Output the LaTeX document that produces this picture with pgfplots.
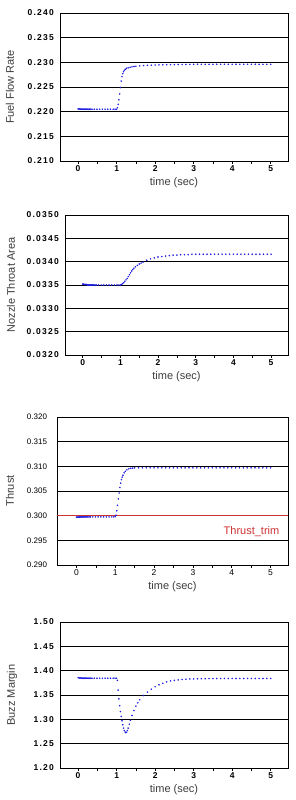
\documentclass[border=0pt]{standalone}
\usepackage{fontspec}
\setmainfont{Liberation Sans}
\newfontfamily\spaced[LetterSpace=15]{Liberation Sans}
\usepackage{pgfplots}
\pgfplotsset{compat=1.18}
\definecolor{dotblue}{RGB}{30,30,225}
\definecolor{trimred}{RGB}{205,50,50}
\definecolor{labgray}{RGB}{60,60,60}
\pgfplotsset{
  panel/.style={
    scale only axis,
    xmin=-0.47, xmax=5.45,
    xtick={0,1,2,3,4,5},
    minor xtick={0.5,1.5,2.5,3.5,4.5},
    ymajorgrids,
    grid style={black, line width=0.6pt},
    axis line style={black, line width=0.6pt},
    tick align=outside, tick pos=left,
    ytick style={draw=none},
    xtick style={black, line width=0.5pt},
    major tick length=2.5pt, minor tick length=2.5pt,
    scaled y ticks=false,
    xlabel={time (sec)},
    xlabel style={at={(axis description cs:0.5,0)}, anchor=center, yshift=-22pt, font=\fontsize{11}{13}\selectfont, text=labgray},
    ylabel style={at={(axis description cs:0,0.5)}, anchor=center, font=\fontsize{11}{13}\selectfont, text=labgray},
    xticklabel style={font=\bfseries\fontsize{8.5}{10}\selectfont, yshift=1pt},
    /pgf/number format/assume math mode=true,
  },
  dots/.style={only marks, mark=*, mark size=0.55pt, color=dotblue},
  yfmt/.style={yticklabel style={/pgf/number format/fixed, /pgf/number format/fixed zerofill, /pgf/number format/precision=#1}},
}
\begin{document}
\begin{tikzpicture}
\useasboundingbox (0,0) rectangle (296pt,-800pt);
% Panel 1
\begin{axis}[panel, at={(60pt,-13pt)}, anchor=north west, width=228pt, height=148pt,
  ymin=0.21, ymax=0.24, ytick={0.210,0.215,0.220,0.225,0.230,0.235,0.240},
  yfmt=3, yticklabel style={font=\spaced\bfseries\fontsize{8.5}{10}\selectfont},
  ylabel={Fuel Flow Rate}, ylabel style={yshift=50pt}]
\addplot[dots] coordinates {
(0.00,0.22055)(0.02,0.22055)(0.04,0.22053)(0.06,0.22052)(0.08,0.22052)(0.10,0.22051)(0.12,0.2205)(0.14,0.2205)(0.16,0.2205)(0.18,0.2205)(0.20,0.2205)(0.22,0.2205)(0.24,0.2205)(0.26,0.2205)(0.28,0.2205)(0.30,0.2205)(0.33,0.2205)(0.36,0.2205)
(0.42,0.2205)(0.49,0.2205)(0.56,0.2205)(0.63,0.2205)(0.70,0.2205)(0.77,0.2205)(0.84,0.2205)(0.91,0.2205)(0.96,0.2205)(1.00,0.2205)
(1.02,0.2208)(1.04,0.2215)(1.06,0.2224)(1.08,0.2236)(1.10,0.2249)(1.12,0.2262)(1.14,0.2271)(1.16,0.2277)(1.18,0.2281)(1.20,0.2284)
(1.23,0.2286)(1.26,0.2288)(1.30,0.2289)(1.35,0.2290)(1.40,0.22908)(1.45,0.22915)(1.50,0.2292)(1.60,0.22928)(1.70,0.22935)(1.80,0.2294)(1.90,0.22943)(2.00,0.22946)
(2.10,0.22948)(2.20,0.2295)(2.30,0.22952)(2.40,0.22953)(2.50,0.22954)(2.60,0.22955)(2.70,0.22956)(2.80,0.22957)(2.90,0.22958)(3.00,0.22959)
(3.10,0.2296)(3.20,0.2296)(3.30,0.2296)(3.40,0.2296)(3.50,0.2296)(3.60,0.2296)(3.70,0.2296)(3.80,0.2296)(3.90,0.2296)(4.00,0.2296)
(4.10,0.2296)(4.20,0.2296)(4.30,0.2296)(4.40,0.2296)(4.50,0.2296)(4.60,0.2296)(4.70,0.2296)(4.80,0.2296)(4.90,0.2296)(5.00,0.2296)
};
\end{axis}
% Panel 2
\begin{axis}[panel, at={(65pt,-215pt)}, anchor=north west, width=223pt, height=140pt,
  ymin=0.032, ymax=0.035, ytick={0.0320,0.0325,0.0330,0.0335,0.0340,0.0345,0.0350},
  yfmt=4, yticklabel style={font=\spaced\bfseries\fontsize{8.5}{10}\selectfont},
  ylabel={Nozzle Throat Area}, ylabel style={yshift=54pt}]
\addplot[dots] coordinates {
(0.00,0.03352)(0.02,0.03352)(0.04,0.03351)(0.06,0.03351)(0.08,0.03351)(0.10,0.03351)(0.12,0.0335)(0.14,0.0335)(0.16,0.0335)(0.18,0.0335)(0.20,0.0335)(0.22,0.0335)(0.24,0.0335)(0.26,0.0335)(0.28,0.0335)(0.30,0.0335)(0.33,0.0335)(0.36,0.0335)
(0.42,0.0335)(0.49,0.0335)(0.56,0.0335)(0.63,0.0335)(0.70,0.0335)(0.77,0.0335)(0.84,0.0335)(0.91,0.0335)(0.96,0.0335)(1.00,0.0335)
(1.03,0.03351)(1.06,0.03353)(1.09,0.03355)(1.12,0.03358)(1.15,0.03361)(1.18,0.03364)(1.21,0.03368)(1.24,0.03372)(1.27,0.03376)(1.30,0.0338)(1.33,0.03383)(1.36,0.03386)(1.40,0.03389)
(1.45,0.03392)(1.50,0.03395)(1.55,0.03397)(1.60,0.03399)(1.70,0.03403)(1.80,0.03406)(1.90,0.03408)(2.00,0.0341)(2.10,0.03411)(2.20,0.03412)(2.30,0.03413)(2.40,0.03414)(2.50,0.03414)
(2.60,0.03415)(2.70,0.03415)(2.80,0.03415)(2.90,0.03416)(3.00,0.03416)(3.10,0.03416)(3.20,0.03416)(3.30,0.03416)(3.40,0.03416)(3.50,0.03416)(3.60,0.03416)(3.70,0.03416)(3.80,0.03416)(3.90,0.03416)(4.00,0.03416)
(4.10,0.03416)(4.20,0.03416)(4.30,0.03416)(4.40,0.03416)(4.50,0.03416)(4.60,0.03416)(4.70,0.03416)(4.80,0.03416)(4.90,0.03416)(5.00,0.03416)
};
\end{axis}
% Panel 3
\begin{axis}[panel, at={(57pt,-417pt)}, anchor=north west, width=231pt, height=148pt, xmin=-0.5,
  xticklabel style={font=\fontsize{8.5}{10}\selectfont},
  ymin=0.29, ymax=0.32, ytick={0.290,0.295,0.300,0.305,0.310,0.315,0.320},
  yfmt=3, yticklabel style={font=\fontsize{8}{10}\selectfont, xshift=-4pt},
  ylabel={Thrust}, ylabel style={yshift=47pt}]
\addplot[trimred, line width=1.3pt, forget plot] coordinates {(-0.5,0.300)(5.45,0.300)};
\addplot[dots] coordinates {
(0.00,0.2997)(0.02,0.2997)(0.04,0.29972)(0.06,0.29972)(0.08,0.29973)(0.10,0.29973)(0.12,0.29974)(0.14,0.29974)(0.16,0.29975)(0.18,0.29975)(0.20,0.29975)(0.22,0.29975)(0.24,0.29975)(0.26,0.29975)(0.28,0.29975)(0.30,0.29975)(0.33,0.29975)(0.36,0.29975)
(0.42,0.29975)(0.49,0.29975)(0.56,0.29975)(0.63,0.29975)(0.70,0.29975)(0.77,0.29975)(0.84,0.29975)(0.91,0.29975)(0.96,0.29975)(1.00,0.2998)
(1.02,0.3001)(1.04,0.3010)(1.06,0.3021)(1.08,0.3034)(1.10,0.3046)(1.12,0.3057)(1.14,0.3066)(1.16,0.3073)(1.18,0.3078)(1.20,0.3082)
(1.23,0.3087)(1.26,0.3090)(1.30,0.3093)(1.35,0.3095)(1.40,0.3096)(1.45,0.30965)(1.50,0.3097)(1.60,0.3097)(1.70,0.3097)(1.80,0.3097)(1.90,0.3097)(2.00,0.3097)
(2.10,0.3097)(2.20,0.3097)(2.30,0.3097)(2.40,0.3097)(2.50,0.3097)(2.60,0.3097)(2.70,0.3097)(2.80,0.3097)(2.90,0.3097)(3.00,0.3097)
(3.10,0.3097)(3.20,0.3097)(3.30,0.3097)(3.40,0.3097)(3.50,0.3097)(3.60,0.3097)(3.70,0.3097)(3.80,0.3097)(3.90,0.3097)(4.00,0.3097)
(4.10,0.3097)(4.20,0.3097)(4.30,0.3097)(4.40,0.3097)(4.50,0.3097)(4.60,0.3097)(4.70,0.3097)(4.80,0.3097)(4.90,0.3097)(5.00,0.3097)
};
\node[text=trimred, font=\fontsize{11}{13}\selectfont] at (axis cs:4.51,0.2968) {Thrust\_trim};
\end{axis}
% Panel 4
\begin{axis}[panel, at={(60pt,-622pt)}, anchor=north west, width=228pt, height=146pt,
  ymin=1.2, ymax=1.5, ytick={1.20,1.25,1.30,1.35,1.40,1.45,1.50},
  yfmt=2, yticklabel style={font=\spaced\bfseries\fontsize{8.5}{10}\selectfont},
  ylabel={Buzz Margin}, ylabel style={yshift=48pt}]
\addplot[dots] coordinates {
(0.00,1.3855)(0.02,1.3855)(0.04,1.385)(0.06,1.385)(0.08,1.3848)(0.10,1.3847)(0.12,1.3846)(0.14,1.3845)(0.16,1.3845)(0.18,1.3845)(0.20,1.3845)(0.22,1.3845)(0.24,1.3845)(0.26,1.3845)(0.28,1.3845)(0.30,1.3845)(0.33,1.3845)(0.36,1.3845)
(0.42,1.3845)(0.49,1.3845)(0.56,1.3845)(0.63,1.3845)(0.70,1.3845)(0.77,1.3845)(0.84,1.3845)(0.91,1.3845)(0.96,1.3845)(1.00,1.3845)
(1.02,1.380)(1.04,1.360)(1.06,1.342)(1.08,1.328)(1.10,1.316)(1.12,1.306)(1.14,1.297)(1.16,1.289)(1.18,1.282)(1.20,1.277)(1.22,1.274)(1.24,1.2725)(1.26,1.2735)(1.28,1.277)
(1.30,1.282)(1.33,1.290)(1.36,1.298)(1.40,1.308)(1.45,1.318)(1.50,1.327)(1.55,1.334)(1.60,1.340)(1.70,1.349)(1.80,1.356)(1.90,1.362)(2.00,1.367)
(2.10,1.371)(2.20,1.374)(2.30,1.377)(2.40,1.379)(2.50,1.380)(2.60,1.381)(2.70,1.382)(2.80,1.3825)(2.90,1.383)(3.00,1.383)
(3.10,1.3833)(3.20,1.3835)(3.30,1.3835)(3.40,1.3837)(3.50,1.3838)(3.60,1.3838)(3.70,1.384)(3.80,1.384)(3.90,1.384)(4.00,1.384)
(4.10,1.384)(4.20,1.384)(4.30,1.384)(4.40,1.384)(4.50,1.384)(4.60,1.384)(4.70,1.384)(4.80,1.384)(4.90,1.384)(5.00,1.384)
};
\end{axis}
\end{tikzpicture}
\end{document}
